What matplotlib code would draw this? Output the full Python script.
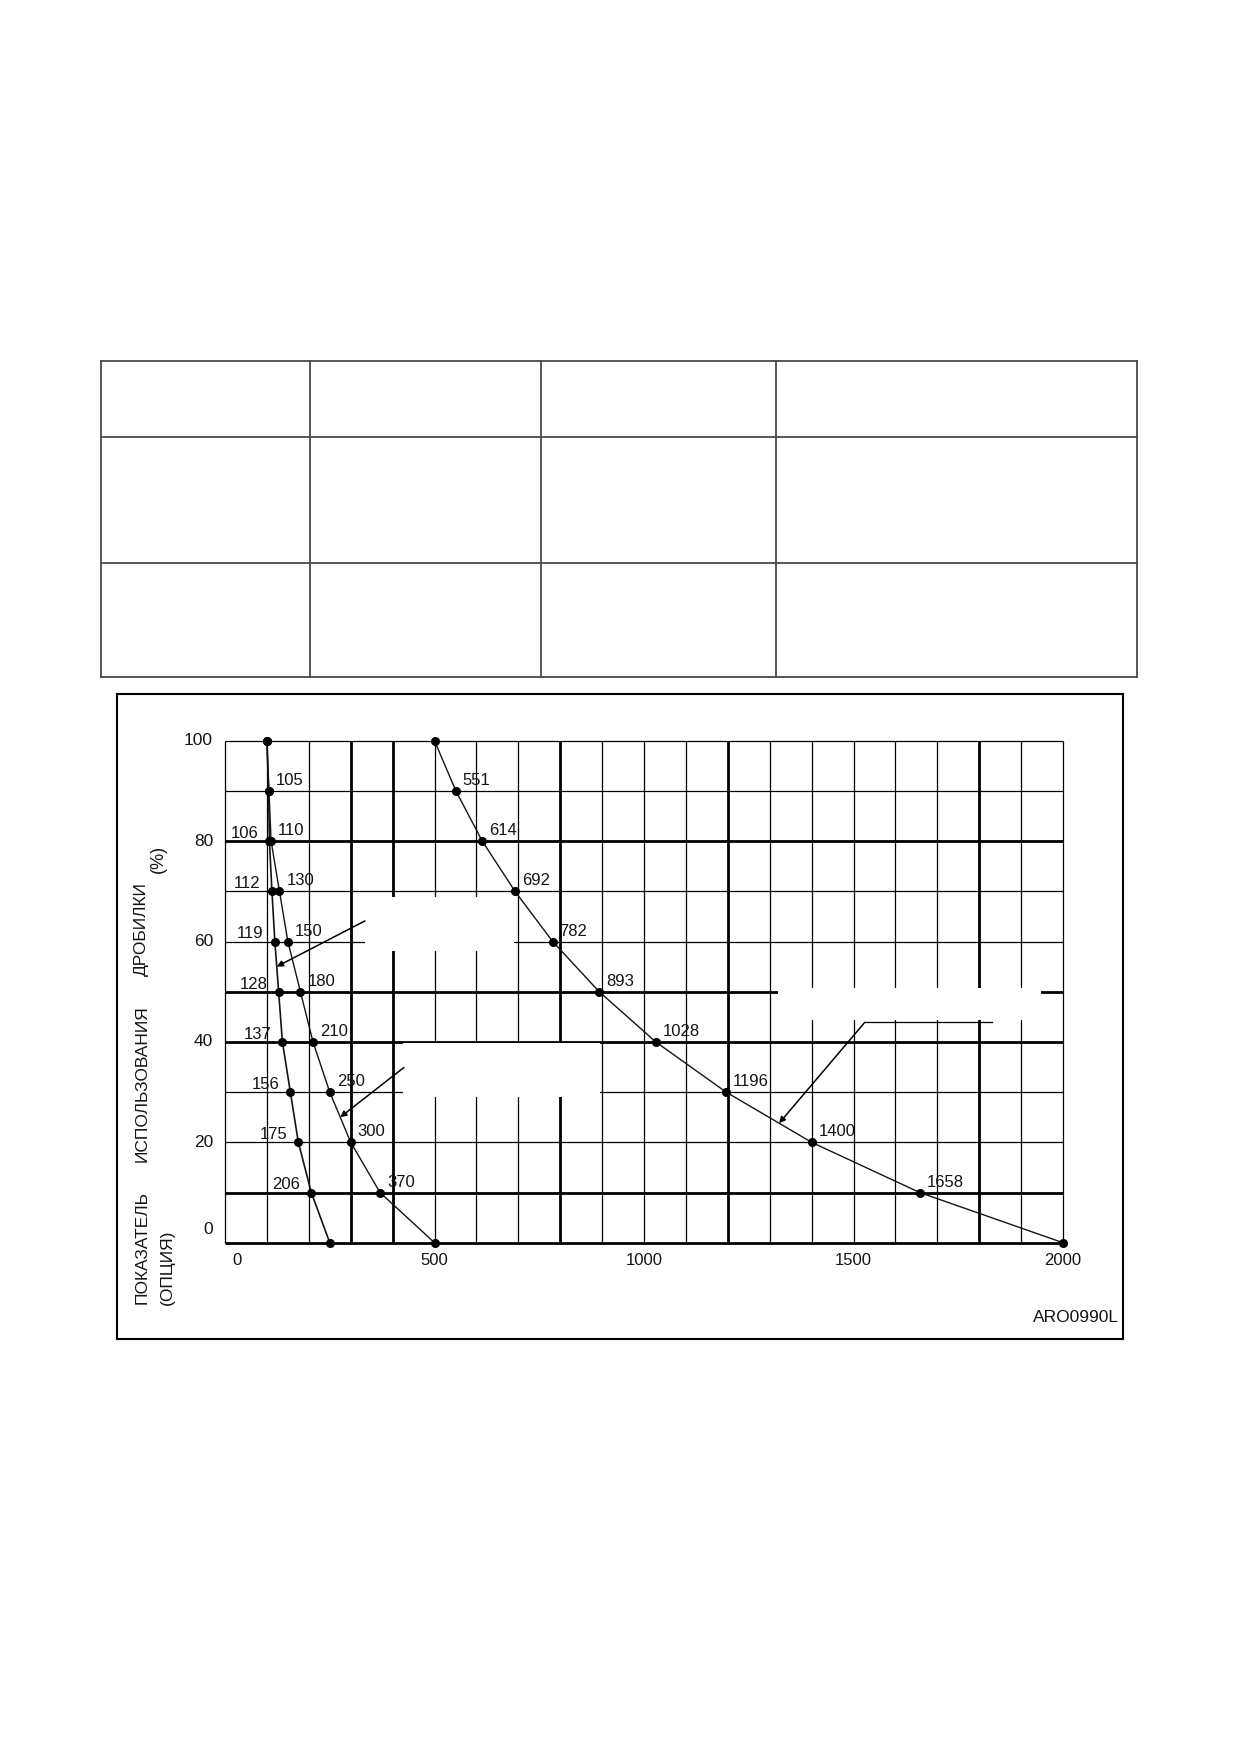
import matplotlib
matplotlib.use("Agg")
import matplotlib.pyplot as plt
from matplotlib.patches import Rectangle
import numpy as np

plt.rcParams["font.family"] = ["Liberation Sans", "DejaVu Sans"]

W, H, DPI = 1239, 1754, 100
INK = "#141414"

# ── Data ─────────────────────────────────────────────────────────────────────
levels = [100, 90, 80, 70, 60, 50, 40, 30, 20, 10, 0]

left_x = [100, 104, 106, 112, 119, 128, 137, 156, 175, 206, 250]
left_labels = [None, None, "106", "112", "119", "128", "137", "156", "175", "206", None]

mid_x = [100, 105, 110, 130, 150, 180, 210, 250, 300, 370, 500]
mid_labels = [None, "105", "110", "130", "150", "180", "210", "250", "300", "370", None]

right_x = [500, 551, 614, 692, 782, 893, 1028, 1196, 1400, 1658, 2000]
right_labels = [None, "551", "614", "692", "782", "893", "1028", "1196", "1400", "1658", None]

x_ticks = [0, 500, 1000, 1500, 2000]
y_ticks = [0, 20, 40, 60, 80, 100]

x_grid = list(range(0, 2001, 100))
x_thick = [300, 400, 800, 1200, 1800]
y_grid = list(range(0, 101, 10))
y_thick = [0, 10, 40, 50, 80]

# blanked-out label areas (data units: x0, x1, y0, y1)
blank_boxes = [(334, 690, 58.1, 68.9), (425, 895, 29.0, 39.8), (1320, 1948, 44.3, 50.7)]


def px_box(x0, y0, x1, y1):
    return [x0 / W, 1 - y1 / H, (x1 - x0) / W, (y1 - y0) / H]


def fx(x):
    return x / W


def fy(y):
    return 1 - y / H


fig = plt.figure(figsize=(W / DPI, H / DPI), dpi=DPI)
fig.patch.set_facecolor("white")

# ── Empty table at the top ───────────────────────────────────────────────────
tab = fig.add_axes(px_box(101, 360.5, 1137, 676.7))
tab.set_xlim(101, 1137)
tab.set_ylim(676.7, 360.5)
tab.axis("off")
for yy in [360.5, 436.5, 562.7, 676.7]:
    tab.plot([101, 1137], [yy, yy], color="#4a4a4a", lw=1.3, clip_on=False)
for xx in [101, 309.6, 540.9, 775.9, 1137]:
    tab.plot([xx, xx], [360.5, 676.7], color="#4a4a4a", lw=1.3, clip_on=False)

# ── Frame round the chart ────────────────────────────────────────────────────
frame = fig.add_axes(px_box(116.7, 694.3, 1123, 1339.3))
frame.set_xticks([])
frame.set_yticks([])
frame.patch.set_alpha(0)
for s in frame.spines.values():
    s.set_linewidth(1.5)
    s.set_color("black")

# ── Chart ────────────────────────────────────────────────────────────────────
ax = fig.add_axes(px_box(225, 740.7, 1063, 1242.7))
ax.set_xlim(0, 2000)
ax.set_ylim(0, 100)
ax.axis("off")

for xv in x_grid:
    ax.plot([xv, xv], [0, 100], color="black", lw=2.0 if xv in x_thick else 0.9,
            clip_on=False, zorder=1, solid_capstyle="butt")
for yv in y_grid:
    ax.plot([0, 2000], [yv, yv], color="black", lw=2.0 if yv in y_thick else 0.9,
            clip_on=False, zorder=1, solid_capstyle="butt")

for x0, x1, y0, y1 in blank_boxes:
    ax.add_patch(Rectangle((x0, y0), x1 - x0, y1 - y0, fc="white", ec="none", zorder=2))

for xs, lw in [(left_x, 1.2), (mid_x, 1.0), (right_x, 1.0)]:
    ax.plot(xs, levels, color=INK, lw=lw, zorder=3, clip_on=False)
    ax.plot(xs, levels, "o", color="black", ms=5.5, zorder=4, clip_on=False)

for xs, labs in [(mid_x, mid_labels), (right_x, right_labels)]:
    for xv, yv, lab in zip(xs, levels, labs):
        if lab:
            ax.annotate(lab, (xv, yv), xytext=(5, 7.5), textcoords="offset points",
                        ha="left", va="center", fontsize=12, color=INK, zorder=5)
for xv, yv, lab in zip(left_x, levels, left_labels):
    if lab:
        ax.annotate(lab, (xv, yv), xytext=(-8, 5.5), textcoords="offset points",
                    ha="right", va="center", fontsize=12, color=INK, zorder=5)

# callout arrows pointing at the curves
def curve_x(xs, y):
    return float(np.interp(y, levels[::-1], xs[::-1]))


arrow_kw = dict(arrowstyle="-|>", lw=1.1, color="black", mutation_scale=9,
                shrinkA=0, shrinkB=0)
ax.annotate("", xy=(curve_x(left_x, 55), 55), xytext=(334, 64.1),
            arrowprops=arrow_kw, zorder=5)
ax.annotate("", xy=(curve_x(mid_x, 25), 25), xytext=(427, 34.9),
            arrowprops=arrow_kw, zorder=5)
ax.plot([1830, 1527], [43.9, 43.9], color="black", lw=0.9, zorder=5)
ax.annotate("", xy=(curve_x(right_x, 23.8), 23.8), xytext=(1527, 43.9),
            arrowprops=arrow_kw, zorder=5)

# tick labels
for t in x_ticks:
    dx = 8.4 if t == 0 else 0
    ax.annotate(str(t), (t, 0), xytext=(dx, -12.5), textcoords="offset points",
                ha="center", va="center", fontsize=12, color=INK)
for t in y_ticks:
    dy = 9.6 if t == 0 else 0
    ax.annotate(str(t), (0, t), xytext=(-8.6, dy), textcoords="offset points",
                ha="right", va="center", fontsize=12.5, color=INK)

# axis title (rotated, split in words)
for word, yc in [("ПОКАЗАТЕЛЬ", 1247.5), ("ИСПОЛЬЗОВАНИЯ", 1084), ("ДРОБИЛКИ", 929.5)]:
    fig.text(fx(141.7), fy(yc), word, rotation=90, ha="center", va="center",
             fontsize=12.5, color=INK)
fig.text(fx(167), fy(1267), "(ОПЦИЯ)", rotation=90, ha="center", va="center",
         fontsize=12.5, color=INK)
fig.text(fx(158.8), fy(859), "(%)", rotation=90, ha="center", va="center",
         fontsize=13, color=INK)

fig.text(fx(1118.5), fy(1317), "ARO0990L", ha="right", va="center",
         fontsize=12.5, color=INK)

fig.savefig("out.png", dpi=DPI, facecolor="white")
